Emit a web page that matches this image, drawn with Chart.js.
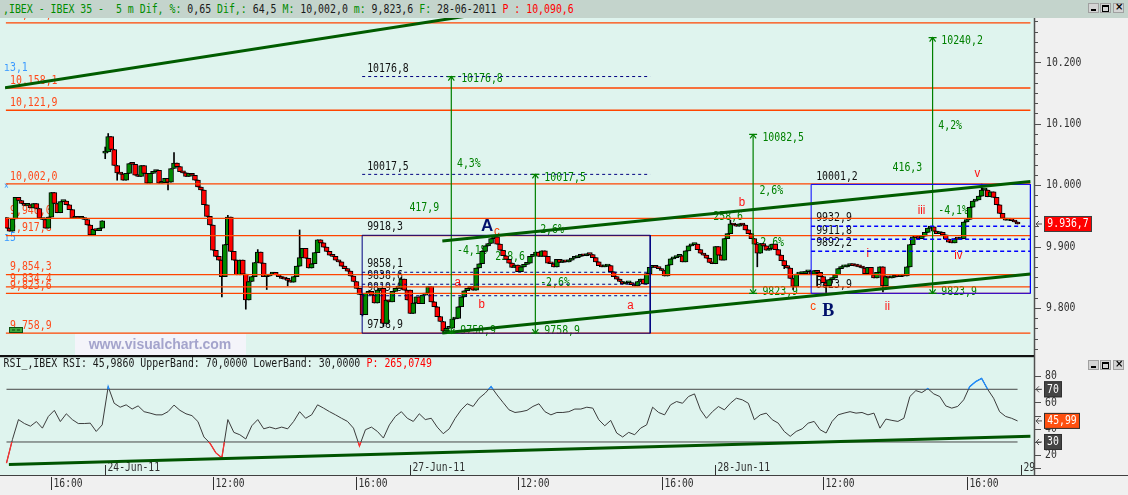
<!DOCTYPE html>
<html><head><meta charset="utf-8">
<script src="https://cdn.jsdelivr.net/npm/chart.js@4.4.1/dist/chart.umd.min.js"></script>
<style>
html,body{margin:0;padding:0;background:#f0f0f0;}
#wrap{position:relative;width:1128px;height:495px;overflow:hidden;background:#f0f0f0;}
#main{position:absolute;left:0;top:0;width:1128px;height:356px;}
#rsi{position:absolute;left:0;top:356px;width:1128px;height:139px;}
#hdr{position:absolute;left:0;top:0;width:1128px;height:18px;background:#c4d4cc;z-index:3;}
#hdrtxt{position:absolute;left:3px;top:3px;font-family:"DejaVu Sans Mono",monospace;font-size:9.9px;line-height:12px;white-space:pre;transform:scaleY(1.2);transform-origin:0 50%;}
.g{color:#008c00}.k{color:#1a1a1a}.r{color:#ff0000}
.wb{position:absolute;width:11px;height:10px;background:#d4d4d4;border:1px solid #a0a0a0;box-sizing:border-box;z-index:4;}
.wb i{position:absolute;display:block;}
</style></head><body>
<div id="wrap">
<canvas id="main" width="1128" height="356"></canvas>
<canvas id="rsi" width="1128" height="139"></canvas>
<div id="hdr"><div id="hdrtxt"><span class="g">,IBEX - IBEX 35 -  5 m Dif, %:</span><span class="k"> 0,65 </span><span class="g">Dif,:</span><span class="k"> 64,5 </span><span class="g">M:</span><span class="k"> 10,002,0 </span><span class="g">m:</span><span class="k"> 9,823,6 </span><span class="g">F:</span><span class="k"> 28-06-2011 </span><span class="r">P : 10,090,6</span></div></div>
<div class="wb" style="left:1088px;top:3px"><i style="left:2px;top:5px;width:5px;height:2px;background:#000"></i></div>
<div class="wb" style="left:1100px;top:3px"><i style="left:1px;top:1px;width:5px;height:4px;border:1px solid #000;border-top-width:2px"></i></div>
<div class="wb" style="left:1113px;top:3px"><i style="left:1px;top:-3px;font:bold 10px 'DejaVu Sans',sans-serif;color:#000">×</i></div>
<div class="wb" style="left:1088px;top:360px"><i style="left:2px;top:5px;width:5px;height:2px;background:#000"></i></div>
<div class="wb" style="left:1100px;top:360px"><i style="left:1px;top:1px;width:5px;height:4px;border:1px solid #000;border-top-width:2px"></i></div>
<div class="wb" style="left:1113px;top:360px"><i style="left:1px;top:-3px;font:bold 10px 'DejaVu Sans',sans-serif;color:#000">×</i></div>
</div>
<script>
// ================= DATA =================
// 5-minute closes per session (23-Jun from 14:45, then 24, 27, 28 Jun 9:00-17:25)
const c23 = [9930,9925,9945,9980,9975,9970,9967,9968,9963,9970,9962,9946,9944,9930,9948,9988,9970,9955,9973,9974,9968,9960,9946,9948,9946,9947,9944,9935,9919,9928,9926,9930,9942];
const c24 = [10054,10079,10058,10032,10020,10018,10008,10019,10035,10034,
 10016,10014,10032,10019,10003,10019,10022,10024,10003,10004,
 10011,10005,10027,10036,10030,10022,10020,10014,10019,10016,
 10008,9997,9992,9968,9949,9935,9894,9884,9878,9851,
 9903,9948,9892,9878,9854,9878,9855,9813,9843,9851,
 9874,9891,9873,9851,9852,9855,9858,9854,9851,9848,
 9847,9845,9842,9851,9868,9882,9897,9881,9865,9872,
 9890,9911,9906,9899,9892,9886,9884,9878,9875,9868,
 9864,9860,9852,9843,9832,9822,9789,9824,9827,9821,
 9808,9829,9832,9775,9813,9810,9827,9832,9832,9847,
 9829,9813];
const c27 = [9791,9808,9818,9807,9821,9824,9835,9810,9802,9786,
 9778,9762,9767,9767,9782,9783,9802,9818,9828,9832,
 9835,9829,9865,9872,9892,9901,9905,9913,9916,9904,
 9894,9885,9879,9873,9866,9870,9859,9867,9871,9873,
 9884,9886,9891,9884,9893,9884,9873,9872,9867,9879,
 9874,9876,9875,9878,9881,9882,9884,9886,9885,9888,
 9887,9882,9875,9869,9867,9868,9869,9859,9851,9847,
 9843,9839,9841,9841,9838,9836,9843,9847,9839,9856,
 9866,9869,9866,9864,9861,9852,9870,9880,9882,9884,
 9885,9875,9893,9901,9903,9904,9895,9889,9886,9881,
 9874,9872];
const c28 = [9900,9886,9878,9913,9921,9937,9935,9933,9937,9935,
 9927,9921,9913,9904,9889,9905,9901,9894,9897,9904,
 9895,9886,9877,9869,9865,9848,9835,9855,9856,9856,
 9859,9859,9855,9861,9858,9851,9841,9836,9846,9849,
 9854,9864,9867,9867,9869,9870,9869,9868,9867,9865,
 9856,9866,9854,9849,9858,9867,9836,9851,9849,9850,
 9853,9851,9853,9852,9867,9903,9916,9915,9913,9917,
 9923,9930,9932,9925,9921,9923,9919,9912,9907,9906,
 9913,9912,9913,9940,9944,9964,9974,9976,9982,9992,
 9992,9981,9989,9980,9968,9954,9946,9943,9943,9942,
 9940,9936.7];
const sessionOpens = [9947, 10052, 9829, 9872];
const wickHigh = {33:10062,34:10084,56:10053,74:9951,84:9895,98:9927,132:9850,163:9918.3,242:9943,326:10002};
const wickLow = {33:10043,37:10008,54:9992,72:9818,80:9798,87:9830,94:9836,119:9787,126:9770,146:9758.9,251:9867,260:9864,263:9830,271:9835,274:9823.6,293:9826};

// horizontal support / resistance levels
const levelValues = [10264.3,10158.1,10121.9,10002.0,9946.0,9917.8,9854.3,9834.4,9823.6,9758.9];
const levelLabels = ['10,264,3','10,158,1','10,121,9','10,002,0','9,946,0','9,917,8','9,854,3','9,834,4','9,823,6','9,758,9'];

// trend lines [bar1, value1, bar2, value2]
const trendTopLeft = [-0.5, 10158.5, 153.3, 10274.8];
const channelUpper = [145.7, 9908.9, 342.3, 10005.7];
const channelLower = [145.7, 9759.3, 342.3, 9855.3];

// retracement box A and B [barLeft, barRight, top, bottom]
const boxA = [118.9, 215.2, 9918.3, 9758.9];
const boxAFib = [10176.8, 10017.5, 9858.1, 9838.6, 9819.9];
const boxALabels = ['10176,8','10017,5','9918,3','9858,1','9838,6','9819,9','9758,9'];
const boxALabelVals = [10176.8, 10017.5, 9918.3, 9858.1, 9838.6, 9819.9, 9758.9];
const boxB = [269.0, 342.3, 10001.2, 9823.9];
const boxBFib = [9932.9, 9911.8, 9892.2];
const boxBLabels = ['10001,2','9932,9','9911,8','9892,2','9823,9'];
const boxBLabelVals = [10001.2, 9932.9, 9911.8, 9892.2, 9823.9];

// measuring arrows
const measureBars = [148.7, 176.8, 249.6, 309.6];
const measureTop = [10176.8, 10017.5, 10082.5, 10240.2];
const measureBottom = [9758.9, 9758.9, 9823.9, 9823.9];

// green notes [text, bar, value]
const greenNotes = [
 ['417,9',134.7,9963.4],['4,3%',150.6,10034.1],['-4,1%',150.6,9892.7],['258,6',163.4,9882.9],
 ['2,6%',178.4,9926.8],['-2,6%',178.4,9841.5],
 ['10176,8',152.0,10172.5],['9758,9',151.7,9762.6],['10017,5',179.8,10011.4],['9758,9',179.8,9762.6],
 ['10082,5',252.7,10077.5],['9823,9',252.7,9826.8],['10240,2',312.5,10235.5],['9823,9',312.5,9826.8],
 ['2,6%',251.7,9990.7],['258,6',236.3,9948.0],['-2,6%',250.0,9906.2],
 ['416,3',296.2,10028.1],['4,2%',311.5,10097.1],['-4,1%',311.5,9958.2]
];
// Elliott wave notes [text, bar, value]
const waveNotes = [
 ['a',150.8,9840.7],['b',158.9,9804.9],['a',208.6,9803.3],['c',163.9,9924.0],
 ['b',245.9,9971.0],['c',269.7,9801.6],['i',287.9,9889.0],['ii',294.5,9801.6],
 ['iii',305.9,9958.2],['iv',318.2,9884.6],['v',324.6,10019.0]
];
const bigNotes = [['A',160.7,9932.5],['B',274.7,9794.6]];

// RSI readings, one every 2 bars (bar 0,2,4,...,338)
const rsiEvery2 = [14,32,47,44,42,45.5,40.5,49.4,54,45.5,
 51.4,47,44,44,44.3,38,43,72,59.4,56.4,
 58.2,55,57.4,53,51.9,50.6,50.6,53,58,54,
 51.4,50,45.5,33.8,29.2,21.7,18,47,37.3,35.5,
 32.3,42.3,47,40,41.3,40,41.3,40,45.6,53,
 48,50.6,58.2,55.7,53,50.6,48,45.6,40.5,27,
 39.3,41.3,38,33,43,49.4,53,48,45.6,51.4,
 47,48,41.3,36.3,40,48,54.4,59,57,63.2,
 67,72,65.7,60,54.4,52.4,53,54,57,59,
 53,50.6,52.4,52.4,53,55,55,56.4,55.7,46.9,
 42.3,46.4,36.8,33.8,37.3,35.5,40.5,43,56.4,52.4,
 50.6,58.2,60.7,59.4,64.5,66.5,54.4,48,53,56.9,
 54.4,59.4,63.2,62,59.4,46.9,50.6,51.9,46.9,44.3,
 38,34.3,38,40,44.3,45.6,39.3,36.8,45.6,50.6,
 51.9,53,51.9,52.4,50.6,51.9,40.5,47.4,46.4,45.6,
 48,64.5,69,67.5,70.5,66.5,64.5,57.4,55.7,57,
 62,72,75.8,78.3,70,63.2,53,49.4,48,45.99];
const rsiTrend = [0.8, 13.0, 342.3, 34.3];

// axis labels
const timeLabels = ['16:00','12:00','16:00','12:00','16:00','12:00','16:00'];
const timeBars = [15,69,117,171,219,273,321];
const dateLabels = ['24-Jun-11','27-Jun-11','28-Jun-11','29-Jun-11'];
const dateBars = [33,135,237,339];
const priceTickLabels = [9800,9900,10000,10100,10200];
const rsiTickLabels = [80,60,40,20];
const lastPrice = 9936.7, lastRsi = 45.99;

// ================= BUILD =================
const MONO = '"DejaVu Sans Mono", monospace';
const SANS = '"Liberation Sans", Arial, sans-serif';
const BG = '#dff4ee';
function T(ctx, s, x, y, color, o) {
  o = o || {};
  ctx.save();
  ctx.font = (o.weight || '') + ' ' + (o.size || 9.9) + 'px ' + (o.font || MONO);
  ctx.fillStyle = color;
  ctx.textAlign = o.align || 'left';
  ctx.textBaseline = o.base || 'middle';
  ctx.translate(x, y); ctx.scale(1, o.sy || 1.2);
  ctx.fillText(s, 0, 0);
  ctx.restore();
}
const sessions = [c23, c24, c27, c28];
const bodies = [], wicks = [];
let idx = 0, prev = null;
sessions.forEach((arr, s) => {
  arr.forEach((c, j) => {
    const o = j === 0 ? sessionOpens[s] : prev;
    const hi = Math.max(o, c, wickHigh[idx] !== undefined ? wickHigh[idx] : -Infinity);
    const lo = Math.min(o, c, wickLow[idx] !== undefined ? wickLow[idx] : Infinity);
    bodies.push({x: idx, y: [o, c], up: c >= o});
    wicks.push({x: idx, y: [lo, hi]});
    prev = c; idx++;
  });
});
const XMIN = -0.5, XMAX = 343.5;
function seg(x1, y1, x2, y2, color, w, dash, order) {
  return {type: 'line', data: [{x: x1, y: y1}, {x: x2, y: y2}], borderColor: color, borderWidth: w,
    borderDash: dash || [], pointRadius: 0, fill: false, order: order || 1, tension: 0};
}
function rect(b, color) {
  return {type: 'line', data: [{x: b[0], y: b[2]}, {x: b[1], y: b[2]}, {x: b[1], y: b[3]}, {x: b[0], y: b[3]}, {x: b[0], y: b[2]}],
    borderColor: color, borderWidth: 1, pointRadius: 0, fill: false, order: 2, tension: 0};
}
const mainDatasets = [
  {type: 'bar', data: wicks, backgroundColor: '#000', borderWidth: 0, barThickness: 1, grouped: false, order: 9},
  {type: 'bar', data: bodies, backgroundColor: c => (c.raw && c.raw.up) ? '#008a00' : '#ff0000',
    borderColor: '#000', borderWidth: 1, borderSkipped: false, barThickness: 5, grouped: false, minBarLength: 2, order: 8}
];
levelValues.forEach(v => mainDatasets.push(seg(-0.2, v, 342.3, v, '#ff4500', 1.3, null, 3)));
mainDatasets.push(rect(boxA, '#000080'));
boxAFib.forEach(v => mainDatasets.push(seg(boxA[0], v, boxA[1], v, '#000080', 1, [3, 3], 2)));
mainDatasets.push(rect(boxB, '#0000ff'));
boxBFib.forEach(v => mainDatasets.push(seg(boxB[0], v, boxB[1], v, '#0000ff', 1.5, [4, 3], 2)));
measureBars.forEach((b, i) => mainDatasets.push(seg(b, measureTop[i], b, measureBottom[i], '#008000', 1.2, null, 2)));
[trendTopLeft, channelUpper, channelLower].forEach(t => mainDatasets.push(seg(t[0], t[1], t[2], t[3], '#005c00', 3, null, 1)));

const mainPlugin = {
  id: 'mainDeco',
  beforeDraw(ch) {
    const ctx = ch.ctx;
    ctx.save();
    ctx.fillStyle = BG; ctx.fillRect(0, 0, 1034, 356);
    ctx.fillStyle = '#f0f0f0'; ctx.fillRect(1034, 0, 94, 356);
    ctx.restore();
  },
  beforeDatasetsDraw(ch) {
    const ctx = ch.ctx, xs = ch.scales.x, ys = ch.scales.y;
    const X = b => xs.getPixelForValue(b), Y = v => ys.getPixelForValue(v);
    levelValues.forEach((v, i) => T(ctx, levelLabels[i], 10, Y(v) - 1.5, '#ff4a1a', {base: 'bottom'}));
    boxALabels.forEach((s, i) => T(ctx, s, X(boxA[0]) + 5, Y(boxALabelVals[i]) - 2, '#101010', {base: 'bottom'}));
    boxBLabels.forEach((s, i) => T(ctx, s, X(boxB[0]) + 5, Y(boxBLabelVals[i]) - 2, '#101010', {base: 'bottom'}));
    greenNotes.forEach(n => T(ctx, n[0], X(n[1]), Y(n[2]), '#008000'));
    waveNotes.forEach(n => T(ctx, n[0], X(n[1]), Y(n[2]), n[0] === 'c' ? '#ff4000' : '#ff1010', {align: 'center', font: SANS, size: 11.5, sy: 1.1}));
    T(ctx, bigNotes[0][0], X(bigNotes[0][1]), Y(bigNotes[0][2]), '#00106a', {align: 'center', font: SANS, weight: 'bold', size: 17, sy: 1});
    T(ctx, bigNotes[1][0], X(bigNotes[1][1]), Y(bigNotes[1][2]), '#00106a', {align: 'center', font: '"Liberation Serif", serif', weight: 'bold', size: 18, sy: 1});
    T(ctx, 'ı3,1', 4, Y(10190.6), '#3a9aff');
    T(ctx, 'ı5', 4, Y(9913.9), '#3a9aff');
    T(ctx, '×', 4, Y(9998.5), '#3a9aff', {size: 8});
  },
  afterDatasetsDraw(ch) {
    const ctx = ch.ctx, xs = ch.scales.x, ys = ch.scales.y;
    const X = b => xs.getPixelForValue(b), Y = v => ys.getPixelForValue(v);
    ctx.save();
    ctx.strokeStyle = '#008000'; ctx.lineWidth = 1.2;
    measureBars.forEach((b, i) => {
      const x = X(b), yt = Y(measureTop[i]), yb = Y(measureBottom[i]);
      ctx.beginPath();
      ctx.moveTo(x - 4, yt); ctx.lineTo(x + 4, yt);
      ctx.moveTo(x - 3, yt + 4); ctx.lineTo(x, yt); ctx.lineTo(x + 3, yt + 4);
      ctx.moveTo(x - 4, yb); ctx.lineTo(x + 4, yb);
      ctx.moveTo(x - 3, yb - 4); ctx.lineTo(x, yb); ctx.lineTo(x + 3, yb - 4);
      ctx.stroke();
    });
    ctx.fillStyle = '#f4f4fa'; ctx.fillRect(75, 334, 171, 22);
    ctx.restore();
    T(ctx, 'www.visualchart.com', 160, 345, '#a4a4cc', {align: 'center', font: SANS, weight: 'bold', size: 14, sy: 1});
    ctx.save();
    ctx.fillStyle = '#3caa3c'; ctx.fillRect(9, 327, 14, 6);
    ctx.strokeStyle = '#105010'; ctx.lineWidth = 1; ctx.strokeRect(9.5, 327.5, 13, 5);
    ctx.fillStyle = '#104010'; ctx.fillRect(12, 329.5, 3, 1); ctx.fillRect(17, 329.5, 3, 1);
    ctx.fillStyle = '#f0f0f0'; ctx.fillRect(1034, 18, 94, 338);
    ctx.strokeStyle = '#505050'; ctx.lineWidth = 1.5;
    ctx.beginPath(); ctx.moveTo(1034.5, 18); ctx.lineTo(1034.5, 356); ctx.stroke();
    ctx.lineWidth = 1;
    for (let k = -4; k <= 28; k++) {
      const v = 9800 + k * 100 / 6;
      const y = Math.round(Y(v)) + 0.5;
      if (y < 19 || y > 355) continue;
      const major = k % 6 === 0;
      ctx.beginPath(); ctx.moveTo(1035, y); ctx.lineTo(major ? 1041 : 1038, y); ctx.stroke();
    }
    ctx.restore();
    priceTickLabels.forEach(v => {
      const s = v >= 10000 ? String(v).slice(0, 2) + '.' + String(v).slice(2) : String(v).slice(0, 1) + '.' + String(v).slice(1);
      T(ctx, s, 1046, Y(v), '#303030', {size: 9.8, sy: 1.3});
    });
    const yp = Y(lastPrice);
    ctx.save();
    ctx.strokeStyle = '#505050'; ctx.lineWidth = 1;
    ctx.beginPath(); ctx.moveTo(1042, yp); ctx.lineTo(1036, yp); ctx.moveTo(1039, yp - 3); ctx.lineTo(1036, yp); ctx.lineTo(1039, yp + 3); ctx.stroke();
    ctx.fillStyle = '#ff0000'; ctx.fillRect(1044, yp - 8, 48, 16);
    ctx.strokeStyle = '#404040'; ctx.strokeRect(1044.5, yp - 7.5, 47, 15);
    ctx.restore();
    T(ctx, '9.936,7', 1068, yp, '#ffffff', {align: 'center', size: 9.8, sy: 1.3});
    ctx.save(); ctx.fillStyle = '#111'; ctx.fillRect(0, 355, 1034, 1.5); ctx.restore();
  }
};

new Chart(document.getElementById('main'), {
  type: 'bar',
  data: {datasets: mainDatasets},
  options: {
    responsive: false, animation: false, events: [],
    layout: {padding: {left: 5, top: 18, right: 94, bottom: 1}},
    plugins: {legend: {display: false}, tooltip: {enabled: false}},
    scales: {
      x: {type: 'linear', min: XMIN, max: XMAX, offset: false, display: false},
      y: {type: 'linear', min: 9723.4, max: 10272.1, display: false}
    }
  },
  plugins: [mainPlugin]
});

// ================= RSI =================
const RMIN = 4.95, RMAX = 94.5, AREA_H = 118;
const rsiPts = rsiEvery2.map((v, i) => ({x: i * 2, y: v}));
const clipAbove70 = -((70 - RMIN) / (RMAX - RMIN) * AREA_H);
const clipBelow30 = -((RMAX - 30) / (RMAX - RMIN) * AREA_H);
const rsiDatasets = [
  seg(0, 70, 338, 70, '#484848', 1, null, 5),
  seg(0, 30, 338, 30, '#484848', 1, null, 5),
  {type: 'line', data: rsiPts, borderColor: '#3c3c3c', borderWidth: 1, pointRadius: 0, fill: false, tension: 0, order: 4},
  {type: 'line', data: rsiPts, borderColor: '#1e8cff', borderWidth: 1.3, pointRadius: 0, fill: false, tension: 0, order: 3,
    clip: {left: 0, right: 0, top: 0, bottom: clipAbove70}},
  {type: 'line', data: rsiPts, borderColor: '#ff3030', borderWidth: 1.3, pointRadius: 0, fill: false, tension: 0, order: 3,
    clip: {left: 0, right: 0, top: clipBelow30, bottom: 0}},
  seg(rsiTrend[0], rsiTrend[1], rsiTrend[2], rsiTrend[3], '#005400', 3, null, 2)
];
const rsiPlugin = {
  id: 'rsiDeco',
  beforeDraw(ch) {
    const ctx = ch.ctx;
    ctx.save();
    ctx.fillStyle = BG; ctx.fillRect(0, 0, 1034, 119);
    ctx.fillStyle = '#f0f0f0'; ctx.fillRect(1034, 0, 94, 139); ctx.fillRect(0, 119, 1034, 20);
    ctx.restore();
  },
  beforeDatasetsDraw(ch) {
    const ctx = ch.ctx, xs = ch.scales.x;
    ctx.save();
    ctx.beginPath(); ctx.rect(0, 0, 1034, 119); ctx.clip();
    ctx.strokeStyle = '#303030'; ctx.lineWidth = 1;
    dateBars.forEach((b, i) => {
      const x = Math.round(xs.getPixelForValue(b)) + 0.5;
      ctx.beginPath(); ctx.moveTo(x, 109); ctx.lineTo(x, 119); ctx.stroke();
      T(ctx, dateLabels[i], x + 2, 112, '#303030', {size: 9.7, sy: 1.3});
    });
    ctx.restore();
    T(ctx, 'RSI_,IBEX RSI: 45,9860 UpperBand: 70,0000 LowerBand: 30,0000 ', 3.6, 7.5, '#1a1a1a', {size: 9.9});
    T(ctx, 'P: 265,0749', 3.6 + 61 * 5.95, 7.5, '#ff0000', {size: 9.9});
  },
  afterDraw(ch) {
    const ctx = ch.ctx, xs = ch.scales.x, ys = ch.scales.y;
    ctx.save();
    ctx.fillStyle = '#111'; ctx.fillRect(0, 0, 1034, 1.2);
    ctx.fillStyle = '#404040'; ctx.fillRect(0, 119, 1034, 1);
    ctx.strokeStyle = '#505050'; ctx.lineWidth = 1.5;
    ctx.beginPath(); ctx.moveTo(1034.5, 0); ctx.lineTo(1034.5, 120); ctx.stroke();
    ctx.fillStyle = '#404040'; ctx.fillRect(1034, 119, 94, 1);
    ctx.lineWidth = 1;
    for (let v = 10; v <= 80; v += 10) {
      const y = Math.round(ys.getPixelForValue(v)) + 0.5;
      ctx.beginPath(); ctx.moveTo(1035, y); ctx.lineTo(1041, y); ctx.stroke();
    }
    ctx.restore();
    rsiTickLabels.forEach(v => T(ctx, String(v), 1045, ys.getPixelForValue(v), '#303030', {size: 9.8, sy: 1.3}));
    const box = (val, txt, w, bg) => {
      const y = ys.getPixelForValue(val);
      ctx.save();
      ctx.strokeStyle = '#505050'; ctx.lineWidth = 1;
      ctx.beginPath(); ctx.moveTo(1042, y); ctx.lineTo(1036, y); ctx.moveTo(1039, y - 3); ctx.lineTo(1036, y); ctx.lineTo(1039, y + 3); ctx.stroke();
      ctx.fillStyle = bg; ctx.fillRect(1044, y - 8, w, 16);
      ctx.strokeStyle = '#303030'; ctx.strokeRect(1044.5, y - 7.5, w - 1, 15);
      ctx.restore();
      T(ctx, txt, 1044 + w / 2, y, '#ffffff', {align: 'center', size: 9.8, sy: 1.3});
    };
    box(70, '70', 18, '#444444');
    box(30, '30', 18, '#444444');
    box(lastRsi, '45,99', 36, '#ff5010');
    ctx.save();
    ctx.strokeStyle = '#303030'; ctx.lineWidth = 1;
    timeBars.forEach((b, i) => {
      const x = Math.round(xs.getPixelForValue(b)) + 0.5;
      ctx.beginPath(); ctx.moveTo(x, 121); ctx.lineTo(x, 134); ctx.stroke();
      T(ctx, timeLabels[i], x + 2, 128, '#303030', {size: 9.7, sy: 1.3});
    });
    ctx.restore();
  }
};
new Chart(document.getElementById('rsi'), {
  type: 'line',
  data: {datasets: rsiDatasets},
  options: {
    responsive: false, animation: false, events: [],
    layout: {padding: {left: 5, top: 1, right: 94, bottom: 20}},
    plugins: {legend: {display: false}, tooltip: {enabled: false}},
    scales: {
      x: {type: 'linear', min: XMIN, max: XMAX, display: false},
      y: {type: 'linear', min: RMIN, max: RMAX, display: false}
    }
  },
  plugins: [rsiPlugin]
});
</script>
</body></html>
